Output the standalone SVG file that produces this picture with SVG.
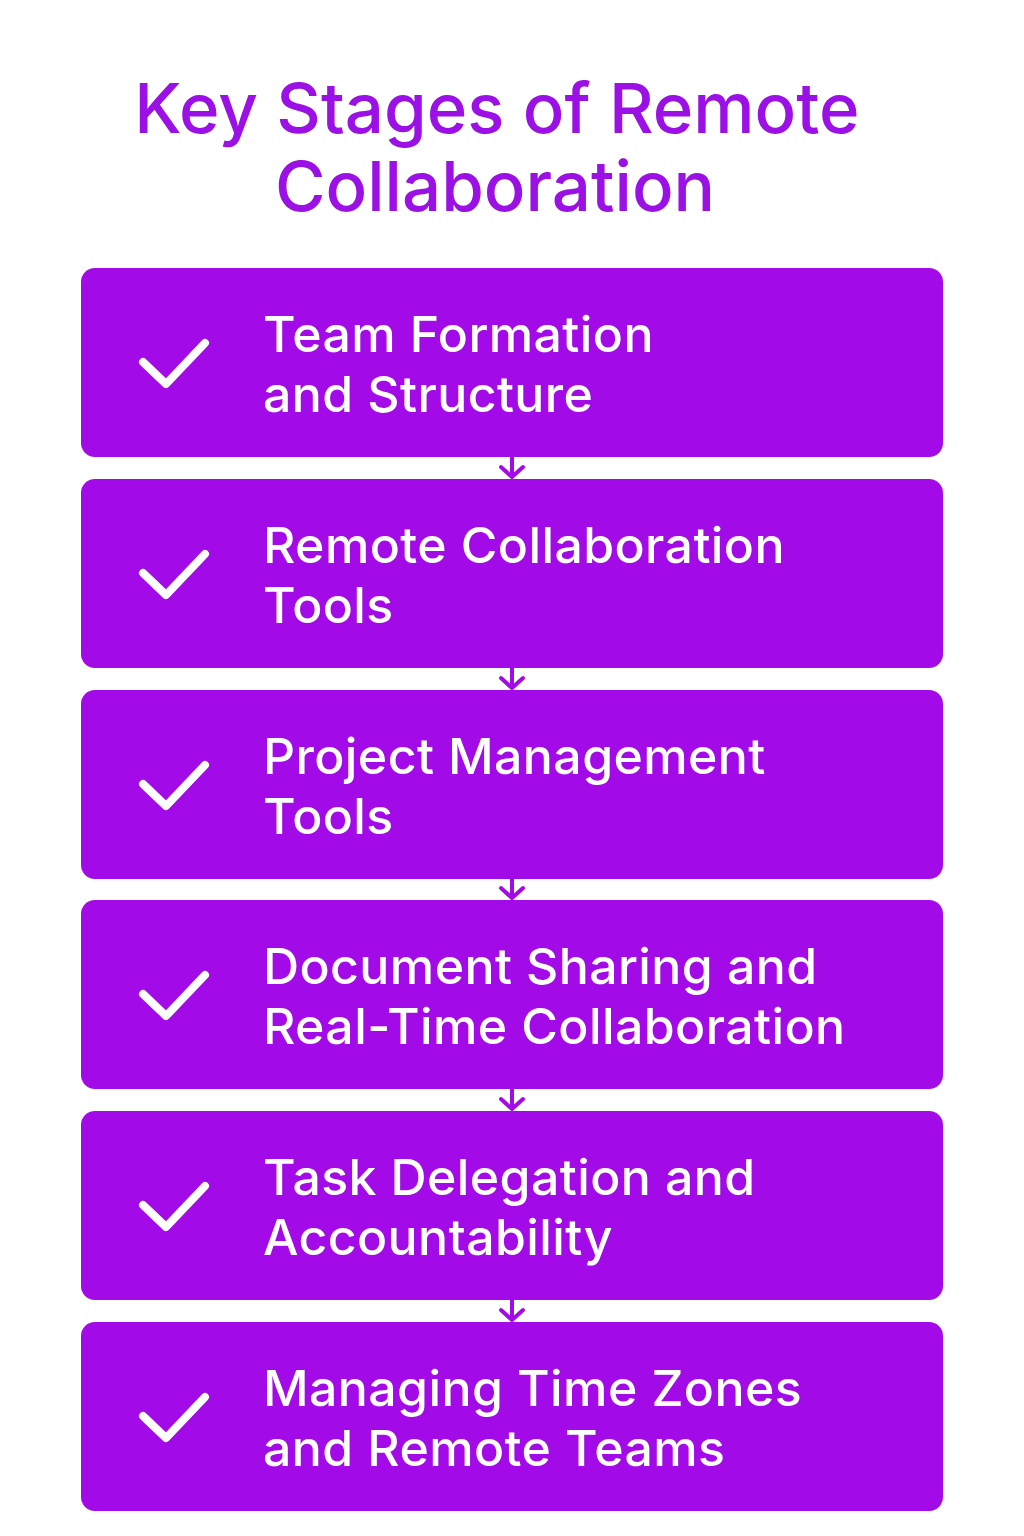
<svg xmlns="http://www.w3.org/2000/svg" width="1024" height="1536" viewBox="0 0 1024 1536">
<defs>
<style>
.box{fill:#A20AE8;}
.t{font-family:Inter,"Noto Sans","Liberation Sans",sans-serif;font-size:50px;letter-spacing:0.4px;font-weight:500;fill:#FFFFFF;}
.title{font-family:Inter,"Noto Sans","Liberation Sans",sans-serif;font-size:69px;letter-spacing:0px;font-weight:500;fill:#9B10E4;text-anchor:middle;}
.chk{fill:none;stroke:#FFFFFF;stroke-width:8;stroke-linecap:round;stroke-linejoin:round;}
.conn{fill:none;stroke:#A20AE8;stroke-width:4;stroke-linecap:round;stroke-linejoin:round;}
</style>
</defs>
<rect width="1024" height="1536" fill="#FFFFFF"/>
<g id="title">
<text class="title" x="497" y="133">Key Stages of Remote</text>
<text class="title" x="495" y="211">Collaboration</text>
</g>
<g id="connectors">
<path class="conn" d="M512 455 V477 M501 467 L512 477 L523 467"/>
<path class="conn" d="M512 665 V688 M501 678 L512 688 L523 678"/>
<path class="conn" d="M512 876 V898 M501 888 L512 898 L523 888"/>
<path class="conn" d="M512 1087 V1109 M501 1099 L512 1109 L523 1099"/>
<path class="conn" d="M512 1298 V1320 M501 1310 L512 1320 L523 1310"/>
</g>
<g id="node1">
<rect class="box" x="81" y="268" width="862" height="189" rx="14"/>
<path class="chk" d="M143 362 L166 384 L205 343"/>
<text class="t" x="263" y="352">Team Formation</text>
<text class="t" x="263" y="412">and Structure</text>
</g>
<g id="node2">
<rect class="box" x="81" y="479" width="862" height="189" rx="14"/>
<path class="chk" d="M143 573 L166 595 L205 554"/>
<text class="t" x="263" y="563">Remote Collaboration</text>
<text class="t" x="263" y="623">Tools</text>
</g>
<g id="node3">
<rect class="box" x="81" y="690" width="862" height="189" rx="14"/>
<path class="chk" d="M143 784 L166 806 L205 765"/>
<text class="t" x="263" y="774">Project Management</text>
<text class="t" x="263" y="834">Tools</text>
</g>
<g id="node4">
<rect class="box" x="81" y="900" width="862" height="189" rx="14"/>
<path class="chk" d="M143 994 L166 1016 L205 975"/>
<text class="t" x="263" y="984">Document Sharing and</text>
<text class="t" x="263" y="1044">Real-Time Collaboration</text>
</g>
<g id="node5">
<rect class="box" x="81" y="1111" width="862" height="189" rx="14"/>
<path class="chk" d="M143 1205 L166 1227 L205 1186"/>
<text class="t" x="263" y="1195">Task Delegation and</text>
<text class="t" x="263" y="1255">Accountability</text>
</g>
<g id="node6">
<rect class="box" x="81" y="1322" width="862" height="189" rx="14"/>
<path class="chk" d="M143 1416 L166 1438 L205 1397"/>
<text class="t" x="263" y="1406">Managing Time Zones</text>
<text class="t" x="263" y="1466">and Remote Teams</text>
</g>
</svg>
